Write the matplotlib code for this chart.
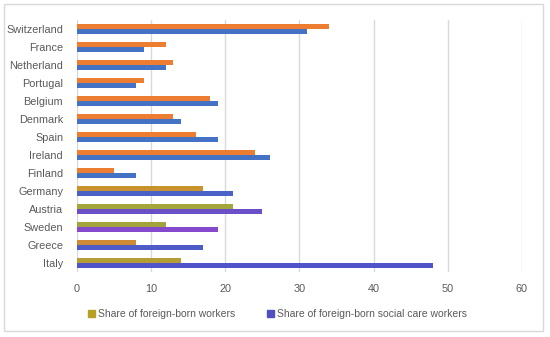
import matplotlib
matplotlib.use("Agg")
import matplotlib.pyplot as plt
from matplotlib.patches import Patch, Rectangle
import numpy as np

countries = ["Switzerland", "France", "Netherland", "Portugal", "Belgium", "Denmark",
             "Spain", "Ireland", "Finland", "Germany", "Austria", "Sweden", "Greece", "Italy"]
share_workers = [34, 12, 13, 9, 18, 13, 16, 24, 5, 17, 21, 12, 8, 14]
share_care = [31, 9, 12, 8, 19, 14, 19, 26, 8, 21, 25, 19, 17, 48]

orange_cols = ["#ed7d31"] * 9 + ["#c8922e", "#a3a63a", "#a3a23c", "#cf8a35", "#b49d35"]
blue_cols = ["#4472c4"] * 9 + ["#4a62c8", "#6a4fc6", "#8449cc", "#4d5ac8", "#5054c8"]

plt.rcParams['font.family'] = ['Liberation Sans', 'DejaVu Sans']
fig = plt.figure(figsize=(5.5, 3.37), dpi=100)
ax = fig.add_axes([0.14, 0.193, 0.809, 0.748])

y = np.arange(len(countries))
h = 0.29
ax.barh(y - h / 2, share_workers, height=h, color=orange_cols, zorder=3)
ax.barh(y + h / 2, share_care, height=h, color=blue_cols, zorder=3)

ax.set_ylim(len(countries) - 0.5, -0.5)
ax.set_xlim(0, 60)
ax.set_xticks(range(0, 61, 10))
ax.set_yticks(y)
ax.set_yticklabels(countries)
ax.grid(axis='x', color='#d9d9d9', linewidth=1, zorder=0)
for s in ax.spines.values():
    s.set_visible(False)
ax.tick_params(axis='both', length=0, colors='#595959', labelsize=7.8)
ax.tick_params(axis='x', pad=9)
ax.tick_params(axis='y', pad=10)

handles = [Patch(color="#b8a025", label="Share of foreign-born workers"),
           Patch(color="#5050c0", label="Share of foreign-born social care workers")]
leg = fig.legend(handles=handles, loc='center', bbox_to_anchor=(0.505, 0.068), ncol=2,
                 frameon=False, fontsize=7.5, handlelength=0.65, handleheight=0.65,
                 handletextpad=0.35, columnspacing=3.0)
for t in leg.get_texts():
    t.set_color('#595959')

fig.patches.append(Rectangle((0.008, 0.018), 0.98, 0.97, transform=fig.transFigure,
                             fill=False, edgecolor='#d9d9d9', linewidth=1))

fig.savefig("out.png", dpi=100)
